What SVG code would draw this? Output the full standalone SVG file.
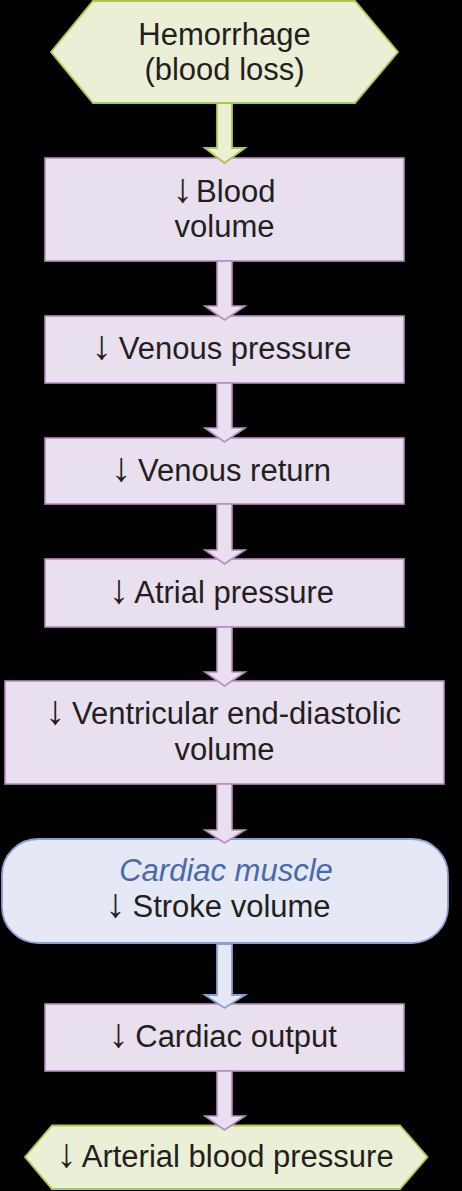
<svg xmlns="http://www.w3.org/2000/svg" width="462" height="1191" viewBox="0 0 462 1191">
<style>
text{font-family:"Liberation Sans",Arial,sans-serif;font-size:31px;fill:#231f20;text-anchor:middle}
.a{font-size:41px}
.p{fill:#e8e0ef;stroke:#b88cc0;stroke-width:1.6}
.g{fill:#eaefd6;stroke:#a9c94d;stroke-width:1.8}
.b{fill:#e5e8f5;stroke:#8b9fd0;stroke-width:1.8}
.it{font-style:italic;fill:#4a68ad}
</style>
<defs>
<filter id="sh" x="-10%" y="-10%" width="130%" height="140%">
<feGaussianBlur in="SourceAlpha" stdDeviation="3"/>
<feOffset dx="7" dy="8"/>
<feComponentTransfer><feFuncA type="linear" slope="0.8"/></feComponentTransfer>
<feFlood flood-color="#d4d4d4"/>
<feComposite operator="in" in2="SourceAlpha"/>
</filter>
</defs>
<rect width="462" height="1191" fill="#000"/>
<g id="n1">
<polygon class="g" points="93,1 355,1 398,52 355,103 93,103 51,52"/>
<text x="224.5" y="45">Hemorrhage</text>
<text x="224.5" y="80">(blood loss)</text>
</g>
<g id="n2">
<rect class="p" x="45" y="158" width="359" height="103"/>
<text x="224" y="202"><tspan class="a">↓</tspan><tspan dx="3">Blood</tspan></text>
<text x="224.5" y="237">volume</text>
</g>
<g id="n3">
<rect class="p" x="45" y="316" width="359" height="67"/>
<text x="221.5" y="359"><tspan class="a">↓</tspan><tspan dx="-2"> Venous pressure</tspan></text>
</g>
<g id="n4">
<rect class="p" x="45" y="438" width="359" height="66"/>
<text x="221" y="481"><tspan class="a">↓</tspan><tspan dx="-2"> Venous return</tspan></text>
</g>
<g id="n5">
<rect class="p" x="45" y="559" width="359" height="68"/>
<text x="221.5" y="603"><tspan class="a">↓</tspan><tspan dx="-2"> Atrial pressure</tspan></text>
</g>
<g id="n6">
<rect class="p" x="5" y="681" width="439" height="103"/>
<text x="223" y="724"><tspan class="a">↓</tspan><tspan dx="-2"> Ventricular end-diastolic</tspan></text>
<text x="224.5" y="760">volume</text>
</g>
<g id="n7">
<rect x="2" y="839" width="446" height="104" rx="36" fill="#d4d4d4" filter="url(#sh)"/>
<rect class="b" x="2" y="839" width="446" height="104" rx="36"/>
<text class="it" x="226" y="881">Cardiac muscle</text>
<text x="218" y="917"><tspan class="a">↓</tspan><tspan dx="-2"> Stroke volume</tspan></text>
</g>
<g id="n8">
<rect class="p" x="45" y="1004" width="359" height="67"/>
<text x="222.5" y="1047"><tspan class="a">↓</tspan><tspan dx="-2"> Cardiac output</tspan></text>
</g>
<g id="n9">
<polygon class="g" points="52,1125.5 400,1125.5 427.5,1157 400,1189 52,1189 25,1157"/>
<text x="225" y="1167"><tspan class="a">↓</tspan><tspan dx="-2"> Arterial blood pressure</tspan></text>
</g>
<g id="connectors">
<polygon class="g" points="217,103 217,148 205,148 224.5,163 245,148 232,148 232,103"/>
<polygon class="p" points="217,261 217,306 205,306 224.5,320 245,306 232,306 232,261"/>
<polygon class="p" points="217,383 217,428 205,428 224.5,442 245,428 232,428 232,383"/>
<polygon class="p" points="217,504 217,550 205,550 224.5,564 245,550 232,550 232,504"/>
<polygon class="p" points="217,627 217,672 205,672 224.5,686 245,672 232,672 232,627"/>
<polygon class="p" points="217,784 217,830 205,830 224.5,843 245,830 232,830 232,784"/>
<polygon points="217,944 217,995 205,995 224.5,1008 245,995 232,995 232,944" fill="#d4d4d4" filter="url(#sh)"/>
<polygon class="b" points="217,944 217,995 205,995 224.5,1008 245,995 232,995 232,944"/>
<polygon class="p" points="217,1071 217,1116 205,1116 224.5,1130 245,1116 232,1116 232,1071"/>
</g>
</svg>
